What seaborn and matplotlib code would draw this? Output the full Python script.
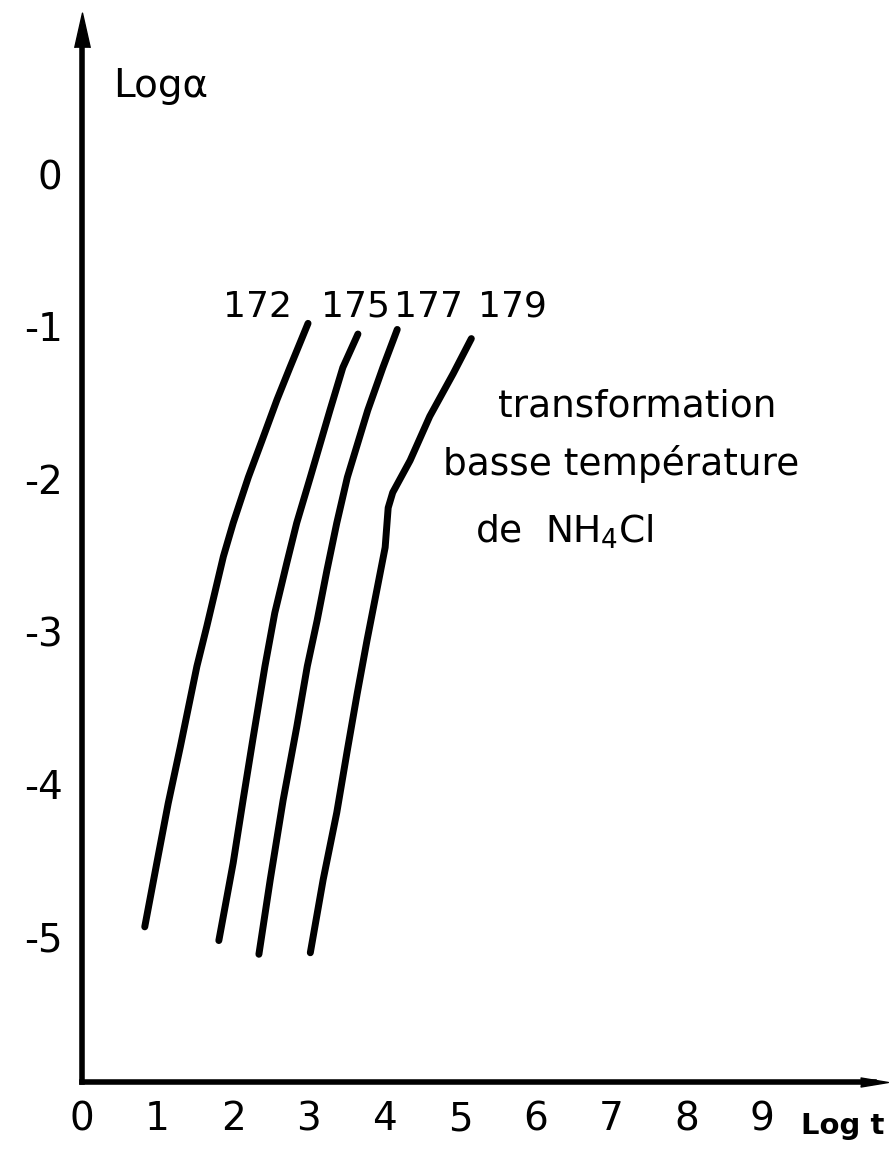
import numpy as np
import pandas as pd
import seaborn as sns
import matplotlib.pyplot as plt

# curves: log t vs log alpha, one per temperature (K)
temps = ["172", "175", "177", "179"]

logt_172 = [2.99, 2.75, 2.58, 2.38, 2.20, 2.00, 1.87, 1.65, 1.52, 1.30, 1.14, 0.99, 0.83]
loga_172 = [-0.98, -1.27, -1.48, -1.75, -1.99, -2.29, -2.51, -2.97, -3.23, -3.76, -4.13, -4.52, -4.94]

logt_175 = [3.65, 3.45, 3.28, 3.02, 2.84, 2.71, 2.55, 2.42, 2.26, 2.13, 2.00, 1.81]
loga_175 = [-1.05, -1.27, -1.55, -1.99, -2.29, -2.55, -2.88, -3.23, -3.71, -4.11, -4.52, -5.03]

logt_177 = [4.17, 3.98, 3.78, 3.51, 3.37, 3.24, 3.11, 2.98, 2.84, 2.66, 2.49, 2.34]
loga_177 = [-1.02, -1.27, -1.55, -1.99, -2.29, -2.60, -2.93, -3.23, -3.63, -4.11, -4.63, -5.12]

logt_179 = [5.15, 4.91, 4.60, 4.34, 4.11, 4.05, 4.01, 3.90, 3.77, 3.64, 3.51, 3.37, 3.19, 3.02]
loga_179 = [-1.08, -1.31, -1.59, -1.88, -2.09, -2.19, -2.45, -2.73, -3.06, -3.41, -3.78, -4.19, -4.63, -5.11]

xticks = list(range(0, 11))
xlabels = ["0", "1", "2", "3", "4", "5", "6", "7", "8", "9", ""]
yticks = [0, -1, -2, -3, -4, -5]
ylabels = ["0", "-1", "-2", "-3", "-4", "-5"]

frames = []
for name, xs, ys in zip(temps,
                        [logt_172, logt_175, logt_177, logt_179],
                        [loga_172, loga_175, loga_177, loga_179]):
    frames.append(pd.DataFrame({"logt": xs, "loga": ys, "curve": name}))
df = pd.concat(frames, ignore_index=True)

sns.set_style("white")
plt.rcParams['font.family'] = ['DejaVu Sans']
plt.rcParams['text.color'] = 'black'

fig = plt.figure(figsize=(8.92, 11.55), dpi=100)
ax = fig.add_axes([82 / 892, 73 / 1155, (874 - 82) / 892, (1082 - 30) / 1155])

sns.lineplot(data=df, x="logt", y="loga", units="curve", estimator=None,
             sort=False, color="black", lw=5, solid_capstyle="round",
             solid_joinstyle="round", ax=ax)

ax.set_xlim(0, (874 - 82) / 75.6)
ax.set_ylim(-(1082 - 174) / 152.4, (174 - 30) / 152.4)

for s in ["top", "right"]:
    ax.spines[s].set_visible(False)
for s in ["left", "bottom"]:
    ax.spines[s].set_linewidth(4)
    ax.spines[s].set_color("black")

ax.set_xticks(xticks)
ax.set_xticklabels(xlabels, fontsize=28)
ax.set_yticks(yticks)
ax.set_yticklabels(ylabels, fontsize=28)
ax.tick_params(axis="x", direction="in", length=9, width=2.2, pad=13,
               colors="black", labelcolor="black")
ax.tick_params(axis="y", direction="in", length=12, width=2.2, pad=14,
               colors="black", labelcolor="black")
ax.set_xlabel("")
ax.set_ylabel("")

# arrow heads at the ends of the axes
up = [(-0.45, -1), (0, 1), (0.45, -1)]
right = [(-1, -0.33), (1, 0), (-1, 0.33)]
ax.plot(0, 1, marker=up, markersize=25, color="black",
        transform=ax.transAxes, clip_on=False)
ax.plot(1, 0, marker=right, markersize=20, color="black",
        transform=ax.transAxes, clip_on=False)

ax.text(1.04, 0.58, "Logα", fontsize=28, ha="center", va="center", color="black")
ax.text(10.62, -6.25, "Log t", fontsize=21, fontweight="bold", ha="right",
        va="center", clip_on=False, color="black")

label_x = [2.32, 3.62, 4.58, 5.69]
for name, lx in zip(temps, label_x):
    ax.text(lx, -0.87, name, fontsize=26, ha="center", va="center", color="black")

ax.text(5.50, -1.59, "transformation", fontsize=27, ha="left", va="baseline", color="black")
ax.text(4.78, -1.975, "basse température", fontsize=27, ha="left", va="baseline", color="black")
ax.text(5.20, -2.42, "de  NH$_4$Cl", fontsize=27, ha="left", va="baseline", color="black")

fig.savefig("out.png", dpi=100)
